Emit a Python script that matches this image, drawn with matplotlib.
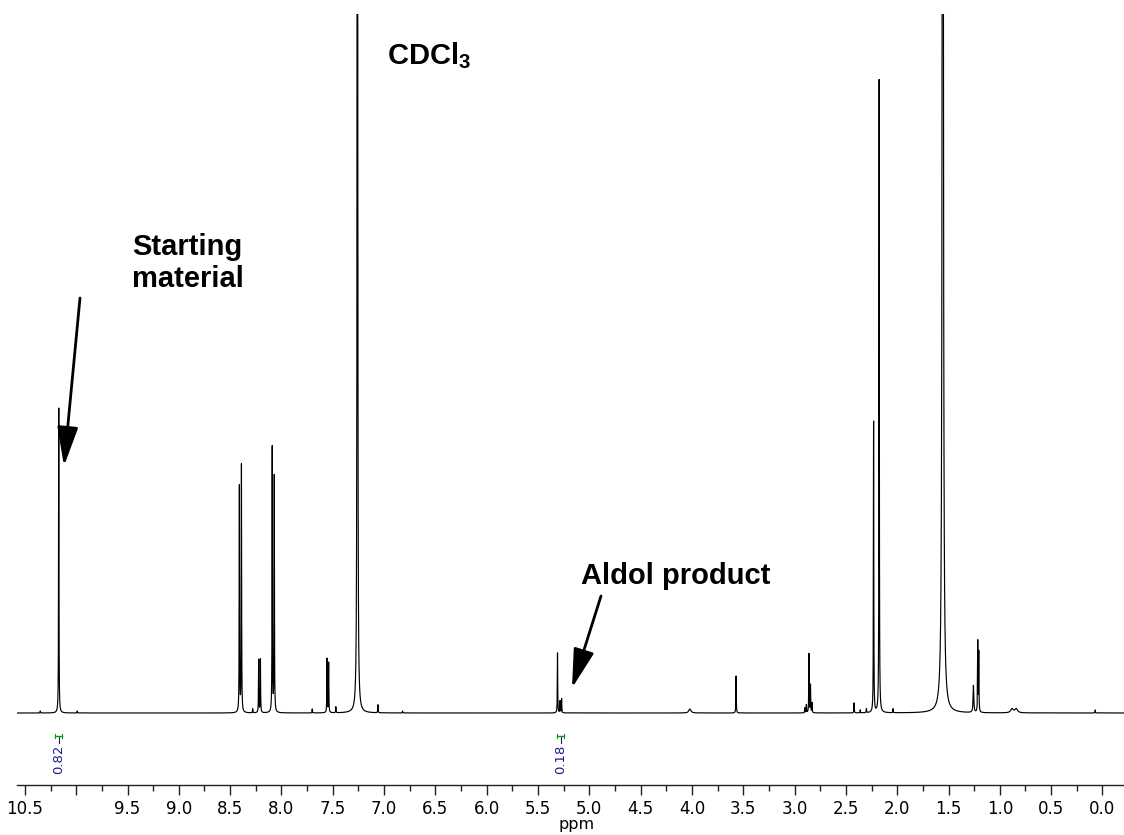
import numpy as np
import matplotlib
matplotlib.use("Agg")
import matplotlib.pyplot as plt
from matplotlib.ticker import MultipleLocator, FixedLocator, FixedFormatter

# ---------------- data ----------------
# peak positions (ppm), heights (arbitrary units, baseline = 0) and half widths (ppm)
peak_ppm = [10.35, 9.99, 10.17,
            8.41, 8.39, 8.28, 8.222, 8.205, 8.09, 8.07,
            7.70, 7.556, 7.54, 7.47, 7.26, 7.06, 6.82,
            5.31, 5.285, 5.27,
            4.02, 3.57,
            2.90, 2.885, 2.86, 2.845, 2.83,
            2.42, 2.36, 2.30, 2.23, 2.176, 2.04,
            1.556, 1.257, 1.215, 1.205,
            0.88, 0.84, 0.07]
peak_height = [2, 2, 305,
               226, 247, 4, 53, 54, 265, 236,
               4, 54, 50, 6, 3000, 8, 2,
               60, 12, 14,
               4, 37,
               5, 8, 59, 28, 10,
               10, 3, 4, 291, 633, 4,
               2600, 27, 71, 60,
               4, 4, 3]
peak_hwhm = [0.002, 0.002, 0.002,
             0.002, 0.002, 0.002, 0.002, 0.002, 0.002, 0.002,
             0.002, 0.002, 0.002, 0.002, 0.002, 0.002, 0.002,
             0.002, 0.002, 0.002,
             0.012, 0.002,
             0.002, 0.002, 0.002, 0.002, 0.002,
             0.002, 0.002, 0.002, 0.002, 0.002, 0.002,
             0.004, 0.004, 0.002, 0.002,
             0.015, 0.015, 0.002]

# integrals: position (ppm) and value label
integral_ppm = [10.17, 5.28]
integral_labels = ["0.82", "0.18"]

# axis ticks
tick_values = [10.5, 10.0, 9.5, 9.0, 8.5, 8.0, 7.5, 7.0, 6.5, 6.0, 5.5,
               5.0, 4.5, 4.0, 3.5, 3.0, 2.5, 2.0, 1.5, 1.0, 0.5, 0.0]
tick_labels = ["10.5", "", "9.5", "9.0", "8.5", "8.0", "7.5", "7.0", "6.5", "6.0", "5.5",
               "5.0", "4.5", "4.0", "3.5", "3.0", "2.5", "2.0", "1.5", "1.0", "0.5", "0.0"]

# ---------------- spectrum ----------------
ppm = np.arange(-0.25, 10.62, 0.0004)
spec = np.zeros_like(ppm)
for p, h, w in zip(peak_ppm, peak_height, peak_hwhm):
    spec += h * w**2 / ((ppm - p) ** 2 + w**2)

W_PX, H_PX = 1124, 835
fig = plt.figure(figsize=(W_PX / 100, H_PX / 100), dpi=100)

ax_left, ax_bottom_img, ax_top_img = 16.7, 785, 14
ax_h_px = ax_bottom_img - ax_top_img
ax = fig.add_axes([ax_left / W_PX, (H_PX - ax_bottom_img) / H_PX,
                   1 - ax_left / W_PX, ax_h_px / H_PX])

ax.plot(ppm, spec, color="black", lw=0.85)
ax.set_xlim(10.58, -0.21)
ax.set_ylim(-72, 699)

for s in ["left", "right", "top"]:
    ax.spines[s].set_visible(False)
ax.spines["bottom"].set_color("#222222")
ax.spines["bottom"].set_linewidth(1.0)
ax.set_yticks([])

ax.xaxis.set_major_locator(FixedLocator(tick_values))
ax.xaxis.set_major_formatter(FixedFormatter(tick_labels))
ax.xaxis.set_minor_locator(MultipleLocator(0.25))
ax.tick_params(axis="x", which="major", direction="out", length=7, width=1.0,
               color="#222222", labelsize=12, pad=4)
ax.tick_params(axis="x", which="minor", direction="out", length=4, width=1.0,
               color="#222222")
ax.set_xlabel("ppm", fontsize=11.5, va="center")
ax.xaxis.set_label_coords((576.7 - ax_left) / (W_PX - ax_left),
                          -(825 - ax_bottom_img) / ax_h_px)

# integrals
for p, lab in zip(integral_ppm, integral_labels):
    ax.text(p, -46, lab, rotation=90, ha="center", va="center",
            fontsize=9.5, color="#1a1a8a")
    ax.plot([p, p], [-30, -23], color="#1a1a8a", lw=0.8)
    ax.plot([p - 0.035, p + 0.035], [-23, -23], color="#00a000", lw=1.0)
    ax.plot([p - 0.035, p - 0.035], [-25, -21], color="#00a000", lw=0.8)
    ax.plot([p + 0.035, p + 0.035], [-25, -21], color="#00a000", lw=0.8)

# annotations (positions in reference pixel coordinates)
def fp(x, y):
    return (x / W_PX, (H_PX - y) / H_PX)

bold = dict(fontsize=21, fontweight="bold", family=["Liberation Sans", "DejaVu Sans"])
fig.text(*fp(387, 56), r"CDCl$_\mathregular{3}$", ha="left", va="center", **bold)
fig.text(*fp(132, 263), "Starting\nmaterial", ha="left", va="center",
         linespacing=1.2, **bold)
fig.text(*fp(581, 576), "Aldol product", ha="left", va="center", **bold)

arrow = dict(arrowstyle="-|>,head_length=1.2,head_width=0.32", lw=2.0,
             color="black", mutation_scale=20, shrinkA=0, shrinkB=0)
ax.annotate("", xy=fp(64, 466), xycoords="figure fraction",
            xytext=fp(80, 298), textcoords="figure fraction", arrowprops=arrow)
ax.annotate("", xy=fp(572, 688), xycoords="figure fraction",
            xytext=fp(601, 596), textcoords="figure fraction", arrowprops=arrow)

fig.savefig("out.png", dpi=100)
